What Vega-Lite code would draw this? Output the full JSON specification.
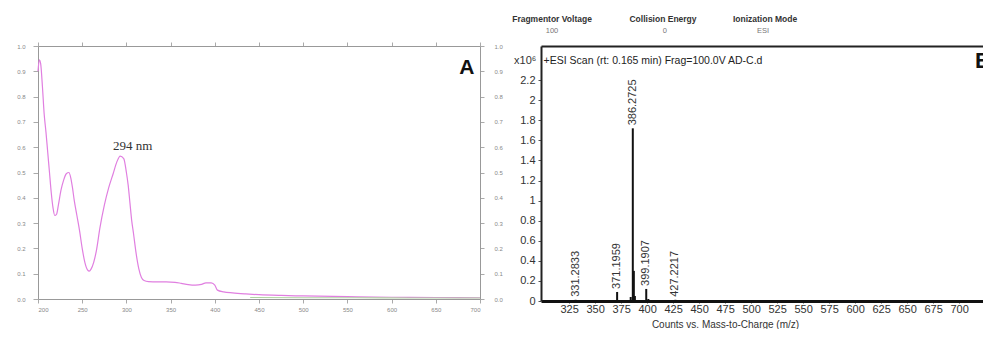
{
  "$schema": "https://vega.github.io/schema/vega-lite/v6.json",
  "padding": {"left": 16, "top": 14, "right": 0, "bottom": 0},
  "background": "white",
  "spacing": 61,
  "bounds": "flush",
  "config": {"view": {"stroke": null}, "font": "Liberation Sans"},
  "datasets": {
    "uv": [
      {"nm": 200, "abs": 0.9, "series": "spectrum"},
      {"nm": 201.5, "abs": 0.945, "series": "spectrum"},
      {"nm": 203, "abs": 0.93, "series": "spectrum"},
      {"nm": 205, "abs": 0.84, "series": "spectrum"},
      {"nm": 207, "abs": 0.73, "series": "spectrum"},
      {"nm": 209, "abs": 0.66, "series": "spectrum"},
      {"nm": 211, "abs": 0.58, "series": "spectrum"},
      {"nm": 213, "abs": 0.5, "series": "spectrum"},
      {"nm": 215, "abs": 0.42, "series": "spectrum"},
      {"nm": 217, "abs": 0.36, "series": "spectrum"},
      {"nm": 219, "abs": 0.33, "series": "spectrum"},
      {"nm": 221, "abs": 0.335, "series": "spectrum"},
      {"nm": 223, "abs": 0.37, "series": "spectrum"},
      {"nm": 226, "abs": 0.43, "series": "spectrum"},
      {"nm": 229, "abs": 0.47, "series": "spectrum"},
      {"nm": 232, "abs": 0.495, "series": "spectrum"},
      {"nm": 235, "abs": 0.5, "series": "spectrum"},
      {"nm": 237, "abs": 0.48, "series": "spectrum"},
      {"nm": 239, "abs": 0.44, "series": "spectrum"},
      {"nm": 241, "abs": 0.39, "series": "spectrum"},
      {"nm": 244, "abs": 0.33, "series": "spectrum"},
      {"nm": 247, "abs": 0.27, "series": "spectrum"},
      {"nm": 250, "abs": 0.2, "series": "spectrum"},
      {"nm": 253, "abs": 0.145, "series": "spectrum"},
      {"nm": 256, "abs": 0.115, "series": "spectrum"},
      {"nm": 258, "abs": 0.11, "series": "spectrum"},
      {"nm": 260, "abs": 0.118, "series": "spectrum"},
      {"nm": 263, "abs": 0.145, "series": "spectrum"},
      {"nm": 266, "abs": 0.19, "series": "spectrum"},
      {"nm": 270, "abs": 0.28, "series": "spectrum"},
      {"nm": 275, "abs": 0.37, "series": "spectrum"},
      {"nm": 280, "abs": 0.44, "series": "spectrum"},
      {"nm": 285, "abs": 0.495, "series": "spectrum"},
      {"nm": 289, "abs": 0.54, "series": "spectrum"},
      {"nm": 293, "abs": 0.565, "series": "spectrum"},
      {"nm": 297, "abs": 0.555, "series": "spectrum"},
      {"nm": 300, "abs": 0.5, "series": "spectrum"},
      {"nm": 302, "abs": 0.45, "series": "spectrum"},
      {"nm": 304, "abs": 0.38, "series": "spectrum"},
      {"nm": 306, "abs": 0.31, "series": "spectrum"},
      {"nm": 308, "abs": 0.26, "series": "spectrum"},
      {"nm": 311, "abs": 0.18, "series": "spectrum"},
      {"nm": 314, "abs": 0.12, "series": "spectrum"},
      {"nm": 317, "abs": 0.085, "series": "spectrum"},
      {"nm": 320, "abs": 0.073, "series": "spectrum"},
      {"nm": 325, "abs": 0.069, "series": "spectrum"},
      {"nm": 335, "abs": 0.068, "series": "spectrum"},
      {"nm": 345, "abs": 0.068, "series": "spectrum"},
      {"nm": 355, "abs": 0.066, "series": "spectrum"},
      {"nm": 362, "abs": 0.062, "series": "spectrum"},
      {"nm": 370, "abs": 0.057, "series": "spectrum"},
      {"nm": 378, "abs": 0.055, "series": "spectrum"},
      {"nm": 385, "abs": 0.058, "series": "spectrum"},
      {"nm": 390, "abs": 0.064, "series": "spectrum"},
      {"nm": 396, "abs": 0.064, "series": "spectrum"},
      {"nm": 400, "abs": 0.055, "series": "spectrum"},
      {"nm": 403, "abs": 0.035, "series": "spectrum"},
      {"nm": 410, "abs": 0.028, "series": "spectrum"},
      {"nm": 420, "abs": 0.024, "series": "spectrum"},
      {"nm": 435, "abs": 0.02, "series": "spectrum"},
      {"nm": 450, "abs": 0.017, "series": "spectrum"},
      {"nm": 475, "abs": 0.014, "series": "spectrum"},
      {"nm": 500, "abs": 0.012, "series": "spectrum"},
      {"nm": 550, "abs": 0.009, "series": "spectrum"},
      {"nm": 600, "abs": 0.007, "series": "spectrum"},
      {"nm": 650, "abs": 0.006, "series": "spectrum"},
      {"nm": 700, "abs": 0.005, "series": "spectrum"},
      {"nm": 440, "abs": 0.006, "series": "baseline"},
      {"nm": 500, "abs": 0.005, "series": "baseline"},
      {"nm": 560, "abs": 0.005, "series": "baseline"},
      {"nm": 620, "abs": 0.004, "series": "baseline"},
      {"nm": 700, "abs": 0.004, "series": "baseline"}
    ],
    "annA1": [{"x": 307, "y": 0.605, "text": "294 nm"}],
    "annA2": [{"x": 685, "y": 0.913, "text": "A"}],
    "peaks": [
      {"mz": 331.2833, "h": 0.012, "label": "331.2833"},
      {"mz": 371.1959, "h": 0.09, "label": "371.1959"},
      {"mz": 384.26, "h": 0.04, "label": ""},
      {"mz": 386.2725, "h": 1.72, "label": "386.2725"},
      {"mz": 387.276, "h": 0.3, "label": ""},
      {"mz": 388.28, "h": 0.05, "label": ""},
      {"mz": 399.1907, "h": 0.12, "label": "399.1907"},
      {"mz": 401.2, "h": 0.02, "label": ""},
      {"mz": 427.2217, "h": 0.012, "label": "427.2217"}
    ],
    "headLabels": [
      {"x": 308.6, "y": 2.81, "text": "Fragmentor Voltage"},
      {"x": 415.3, "y": 2.81, "text": "Collision Energy"},
      {"x": 513.4, "y": 2.81, "text": "Ionization Mode"}
    ],
    "headValues": [
      {"x": 308.6, "y": 2.69, "text": "100"},
      {"x": 417, "y": 2.69, "text": "0"},
      {"x": 511.5, "y": 2.69, "text": "ESI"}
    ],
    "scan": [{"x": 300.5, "y": 2.39, "text": "+ESI Scan (rt: 0.165 min) Frag=100.0V AD-C.d"}],
    "mult": [{"x": 293.5, "y": 2.39, "text": "x10⁶"}],
    "panelB": [{"x": 715.3, "y": 2.39, "text": "B"}]
  },
  "hconcat": [
    {
      "width": 442,
      "height": 253,
      "layer": [
        {
          "data": {"name": "uv"},
          "mark": {"type": "line", "strokeWidth": 1.2, "interpolate": "monotone"},
          "encoding": {
            "x": {"field": "nm", "type": "quantitative", "scale": {"domain": [200, 700], "nice": false},
              "axis": {"orient": "bottom", "values": [200, 250, 300, 350, 400, 450, 500, 550, 600, 650, 700], "format": "d", "title": null, "grid": false,
                "labelFontSize": 6, "labelColor": "#888", "tickColor": "#aaa", "domainColor": "#999", "tickSize": 4, "labelPadding": 3}},
            "y": {"field": "abs", "type": "quantitative", "scale": {"domain": [0, 1], "nice": false},
              "axis": {"orient": "left", "values": [0, 0.1, 0.2, 0.3, 0.4, 0.5, 0.6, 0.7, 0.8, 0.9, 1], "format": ".1f", "title": null, "grid": false,
                "labelFontSize": 6, "labelColor": "#888", "tickColor": "#aaa", "domainColor": "#999", "tickSize": 5, "labelPadding": 8}},
            "color": {"field": "series", "type": "nominal", "scale": {"domain": ["spectrum", "baseline"], "range": ["#e07fe0", "#b0d4a2"]}, "legend": null}
          }
        },
        {
          "data": {"name": "annA1"},
          "mark": {"type": "text", "font": "Liberation Serif", "fontSize": 13, "color": "#333", "baseline": "middle"},
          "encoding": {
            "x": {"field": "x", "type": "quantitative",
              "axis": {"orient": "top", "values": [200, 250, 300, 350, 400, 450, 500, 550, 600, 650, 700], "labels": false, "title": null, "grid": false,
                "tickColor": "#aaa", "domainColor": "#999", "tickSize": 4}},
            "y": {"field": "y", "type": "quantitative",
              "axis": {"orient": "right", "values": [0, 0.1, 0.2, 0.3, 0.4, 0.5, 0.6, 0.7, 0.8, 0.9, 1], "format": ".1f", "title": null, "grid": false,
                "labelFontSize": 6, "labelColor": "#888", "tickColor": "#aaa", "domainColor": "#999", "tickSize": 4, "labelPadding": 10}},
            "text": {"field": "text"}
          }
        },
        {
          "data": {"name": "annA2"},
          "mark": {"type": "text", "font": "Liberation Sans", "fontWeight": "bold", "fontSize": 21, "color": "#111", "baseline": "middle"},
          "encoding": {
            "x": {"field": "x", "type": "quantitative", "axis": null},
            "y": {"field": "y", "type": "quantitative", "axis": null},
            "text": {"field": "text"}
          }
        }
      ],
      "resolve": {"axis": {"x": "independent", "y": "independent"}}
    },
    {
      "width": 442,
      "height": 255,
      "layer": [
        {
          "data": {"name": "peaks"},
          "mark": {"type": "rule", "strokeWidth": 2, "color": "#111"},
          "encoding": {
            "x": {"field": "mz", "type": "quantitative", "scale": {"domain": [298, 723], "nice": false},
              "axis": {"orient": "bottom", "values": [325, 350, 375, 400, 425, 450, 475, 500, 525, 550, 575, 600, 625, 650, 675, 700], "format": "d",
                "title": "Counts vs. Mass-to-Charge (m/z)", "titleFontSize": 10, "titleFontWeight": "normal", "titleColor": "#333", "titleX": 184, "titleY": 23, "titleAlign": "center", "titleBaseline": "middle",
                "grid": false, "labelFontSize": 11, "labelColor": "#333", "tickColor": "#555", "tickSize": 2, "labelPadding": 0, "domainColor": "#111", "domainWidth": 3}},
            "y": {"field": "h", "type": "quantitative", "scale": {"domain": [0, 2.54], "nice": false},
              "axis": {"orient": "left", "values": [0, 0.2, 0.4, 0.6, 0.8, 1, 1.2, 1.4, 1.6, 1.8, 2, 2.2], "format": "~g", "title": null, "grid": false,
                "labelFontSize": 11, "labelColor": "#333", "tickColor": "#555", "tickSize": 3, "labelPadding": 3, "domainColor": "#222", "domainWidth": 2}},
            "y2": {"datum": 0}
          }
        },
        {
          "data": {"name": "peaks"},
          "transform": [{"filter": "datum.label != ''"}],
          "mark": {"type": "text", "angle": 270, "align": "left", "baseline": "middle", "dx": 3, "fontSize": 11, "color": "#333"},
          "encoding": {
            "x": {"field": "mz", "type": "quantitative", "axis": null},
            "y": {"field": "h", "type": "quantitative", "axis": null},
            "text": {"field": "label"}
          }
        },
        {
          "data": {"name": "headLabels"},
          "mark": {"type": "text", "font": "Liberation Sans", "fontWeight": "bold", "fontSize": 8.5, "color": "#333", "baseline": "middle"},
          "encoding": {
            "x": {"field": "x", "type": "quantitative",
              "axis": {"orient": "top", "labels": false, "ticks": false, "title": null, "grid": false, "domainColor": "#222", "domainWidth": 2}},
            "y": {"field": "y", "type": "quantitative", "axis": null},
            "text": {"field": "text"}
          }
        },
        {
          "data": {"name": "headValues"},
          "mark": {"type": "text", "font": "Liberation Sans", "fontSize": 7.5, "color": "#777", "baseline": "middle"},
          "encoding": {
            "x": {"field": "x", "type": "quantitative", "axis": null},
            "y": {"field": "y", "type": "quantitative", "axis": null},
            "text": {"field": "text"}
          }
        },
        {
          "data": {"name": "scan"},
          "mark": {"type": "text", "fontSize": 10.5, "color": "#222", "align": "left", "baseline": "middle"},
          "encoding": {
            "x": {"field": "x", "type": "quantitative", "axis": null},
            "y": {"field": "y", "type": "quantitative", "axis": null},
            "text": {"field": "text"}
          }
        },
        {
          "data": {"name": "mult"},
          "mark": {"type": "text", "fontSize": 11, "color": "#333", "align": "right", "baseline": "middle"},
          "encoding": {
            "x": {"field": "x", "type": "quantitative", "axis": null},
            "y": {"field": "y", "type": "quantitative", "axis": null},
            "text": {"field": "text"}
          }
        },
        {
          "data": {"name": "panelB"},
          "mark": {"type": "text", "fontSize": 22, "fontWeight": "bold", "color": "#111", "align": "left", "baseline": "middle", "clip": true},
          "encoding": {
            "x": {"field": "x", "type": "quantitative", "axis": null},
            "y": {"field": "y", "type": "quantitative", "axis": null},
            "text": {"field": "text"}
          }
        }
      ],
      "resolve": {"axis": {"x": "independent", "y": "independent"}}
    }
  ]
}
